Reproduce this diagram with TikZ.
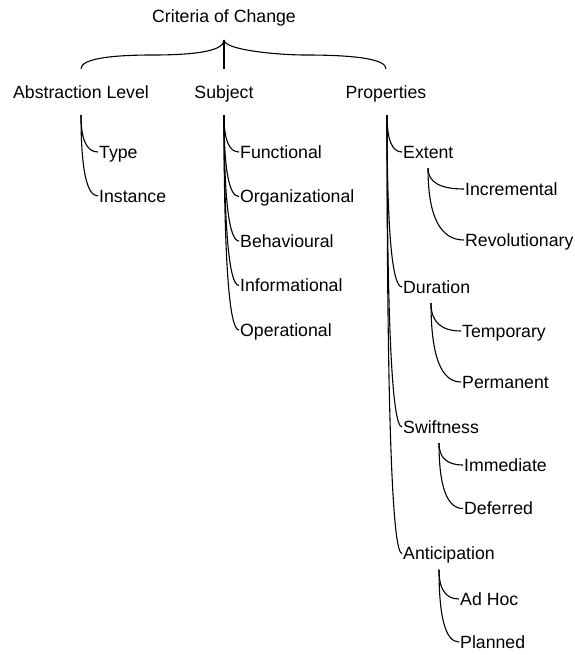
\documentclass[tikz,border=0pt]{standalone}
\usepackage{fontspec}
\setmainfont{Liberation Sans}
\usetikzlibrary{calc}

\tikzset{
  lbl/.style={inner xsep=1pt, inner ysep=0pt, text height=12.7pt, text depth=0pt,
              font=\fontsize{17.7}{20}\selectfont},
  leaf/.style={lbl, anchor=west},
  group/.style={lbl, minimum height=46pt},
  sub/.style={lbl, anchor=west, minimum height=32pt},
  edge/.style={draw=black, line width=1.1pt},
}

% curved branch: quadratic through the corner below the trunk top
\newcommand\branch[2]{%
  \draw[edge] (#1) .. controls ($(#1)!0.667!(#1|-#2.west)$)
    and ($(#2.west)!0.667!(#1|-#2.west)$) .. (#2.west);}

\begin{document}
\begin{tikzpicture}[x=1pt,y=-1pt]
\useasboundingbox (0,0) rectangle (574,655);

% root and brace
\node[lbl] (root) at (224,16) {Criteria of Change};
\coordinate (tip) at (224,40);

\node[group] (abs)  at (81,92)  {Abstraction Level};
\node[group] (subj) at (224,92) {Subject};
\node[group] (prop) at (386,92) {Properties};

\draw[edge] (tip) .. controls (224,50) and (200.3,55) .. (153,55)
  .. controls (105.7,55) and (abs.north|-0,59.7) .. (abs.north);
\draw[edge] (tip) .. controls (224,50) and (278,55) .. (305,55)
  .. controls (359,55) and (prop.north|-0,59.7) .. (prop.north);
\draw[edge] (tip) -- (subj.north);

% Abstraction Level
\node[leaf] (type) at (98,152) {Type};
\node[leaf] (inst) at (98,196) {Instance};
\branch{abs.south}{type}
\branch{abs.south}{inst}

% Subject
\node[leaf] (fun)  at (239,152)   {Functional};
\node[leaf] (org)  at (239,196.5) {Organizational};
\node[leaf] (beh)  at (239,241)   {Behavioural};
\node[leaf] (inf)  at (239,285.5) {Informational};
\node[leaf] (ope)  at (239,330)   {Operational};
\foreach \c in {fun,org,beh,inf,ope} {\branch{subj.south}{\c}}

% Properties
\coordinate (propT) at ([xshift=1pt]prop.south);
\node[sub] (ext) at (402,152) {Extent};
\node[sub] (dur) at (402,287) {Duration};
\node[sub] (swi) at (402,427) {Swiftness};
\node[sub] (ant) at (402,553.5) {Anticipation};
\foreach \c in {ext,dur,swi,ant} {\branch{propT}{\c}}

% Extent
\coordinate (extT) at ([xshift=26pt]ext.south west);
\node[leaf] (inc) at (464,189) {Incremental};
\node[leaf] (rev) at (464,240) {Revolutionary};
\branch{extT}{inc}
\branch{extT}{rev}

% Duration
\coordinate (durT) at ([xshift=29pt]dur.south west);
\node[leaf] (tem) at (461,331) {Temporary};
\node[leaf] (per) at (461,382) {Permanent};
\branch{durT}{tem}
\branch{durT}{per}

% Swiftness
\coordinate (swiT) at ([xshift=37pt]swi.south west);
\node[leaf] (imm) at (463,465) {Immediate};
\node[leaf] (def) at (463,508.5) {Deferred};
\branch{swiT}{imm}
\branch{swiT}{def}

% Anticipation
\coordinate (antT) at ([xshift=37pt]ant.south west);
\node[leaf] (adh) at (459,599) {Ad Hoc};
\node[leaf] (pla) at (459,642) {Planned};
\branch{antT}{adh}
\branch{antT}{pla}
\end{tikzpicture}
\end{document}
